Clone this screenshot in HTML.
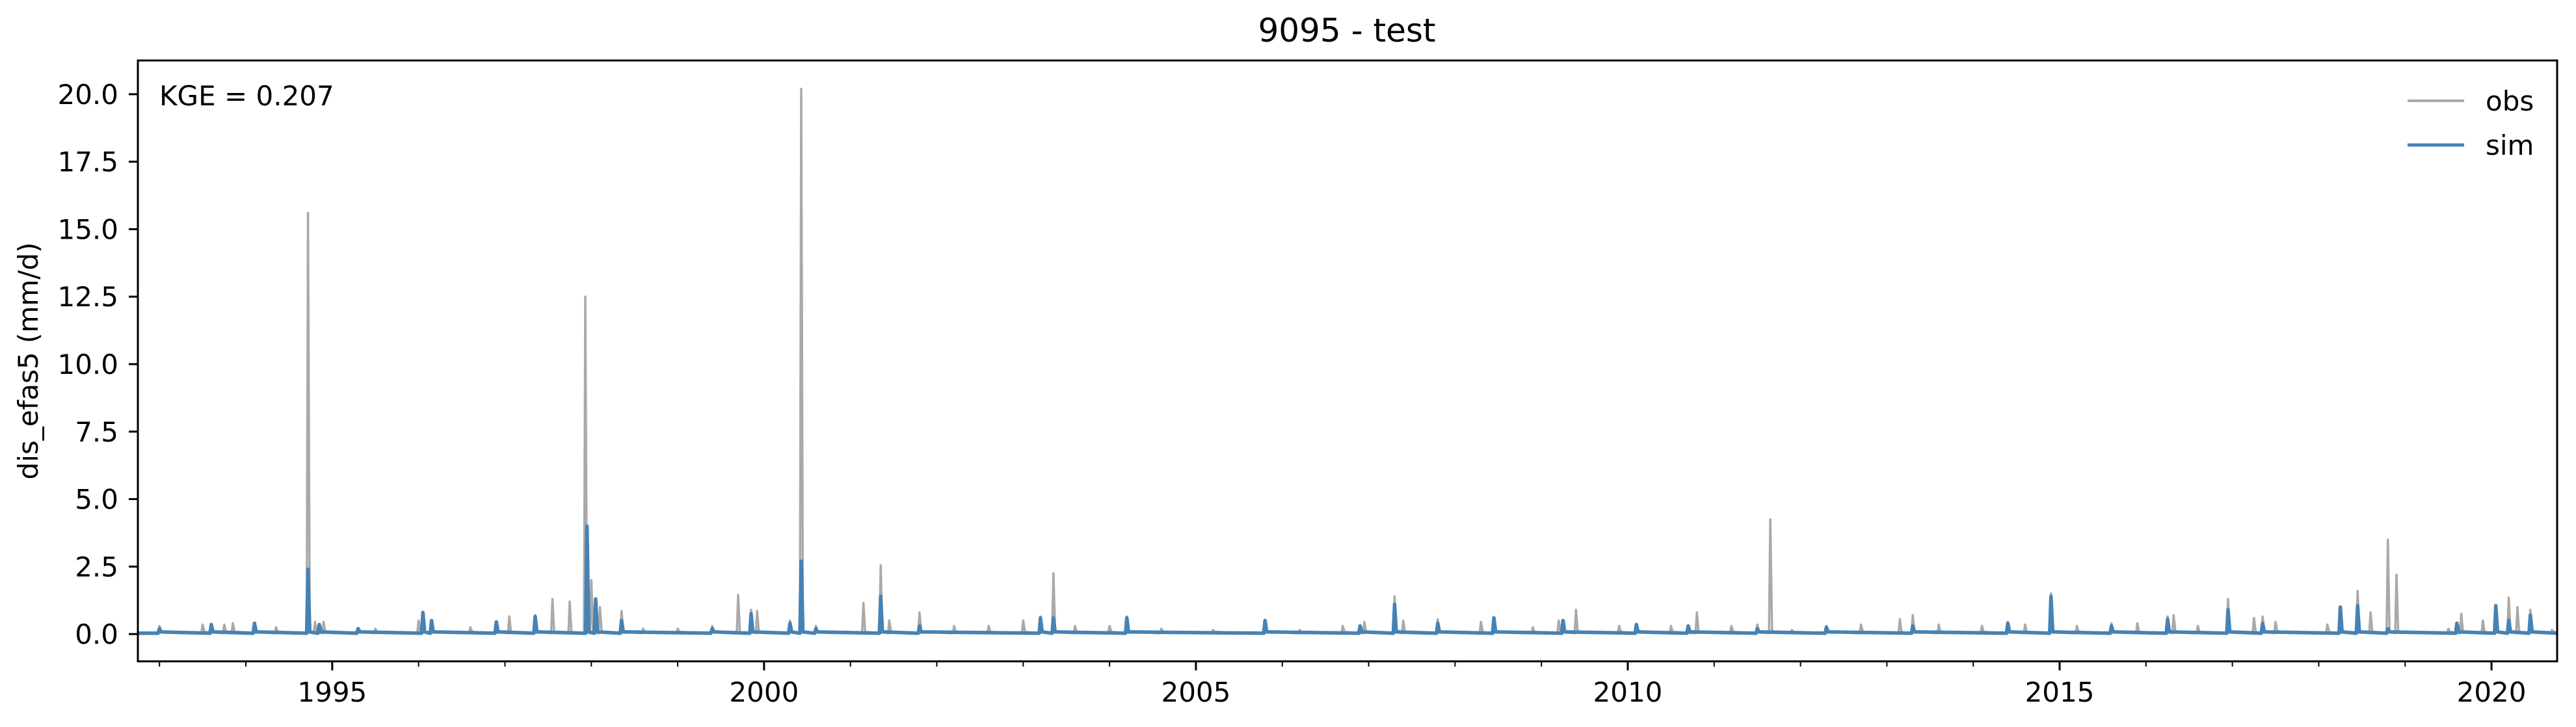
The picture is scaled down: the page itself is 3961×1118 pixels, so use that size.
<!DOCTYPE html>
<html><head><meta charset="utf-8"><style>
html,body{margin:0;padding:0;background:#fff;}
svg{display:block;font-family:"DejaVu Sans","Liberation Sans",sans-serif;}
</style></head><body>
<svg id="chart" width="3961" height="1118" viewBox="0 0 3961 1118" xmlns="http://www.w3.org/2000/svg">
<rect width="3961" height="1118" fill="#fff"/>
<text x="2071" y="64" font-size="50" text-anchor="middle">9095 - test</text>
<text transform="translate(58,555) rotate(-90)" font-size="42" text-anchor="middle">dis_efas5 (mm/d)</text>
<g id="plot"></g>
<g id="axes"></g>
<text x="245" y="162" font-size="42">KGE = 0.207</text>
<g>
<line x1="3702" y1="155" x2="3789" y2="155" stroke="#a9a9a9" stroke-width="4"/>
<text x="3822" y="170" font-size="42">obs</text>
<line x1="3702" y1="223" x2="3789" y2="223" stroke="#4682b4" stroke-width="5"/>
<text x="3822" y="238" font-size="42">sim</text>
</g>
</svg>
<script>
const yTicks = [0, 2.5, 5, 7.5, 10, 12.5, 15, 17.5, 20];
const yTickLabels = ["0.0","2.5","5.0","7.5","10.0","12.5","15.0","17.5","20.0"];
const xTicks = [1995, 2000, 2005, 2010, 2015, 2020];
const xTickLabels = ["1995","2000","2005","2010","2015","2020"];
const obsTimes = [1993.0,1993.5,1993.75,1993.85,1994.1,1994.35,1994.72,1994.8,1994.9,1995.3,1995.5,1996.0,1996.05,1996.15,1996.6,1996.9,1997.05,1997.35,1997.55,1997.75,1997.93,1998.0,1998.1,1998.35,1998.6,1999.0,1999.4,1999.7,1999.85,1999.92,2000.3,2000.43,2000.6,2001.15,2001.35,2001.45,2001.8,2002.2,2002.6,2003.0,2003.2,2003.35,2003.6,2004.0,2004.2,2004.6,2005.2,2005.8,2006.2,2006.7,2006.95,2007.3,2007.4,2007.8,2008.3,2008.45,2008.9,2009.2,2009.4,2009.9,2010.1,2010.5,2010.8,2011.2,2011.5,2011.65,2011.9,2012.3,2012.7,2013.15,2013.3,2013.6,2014.1,2014.4,2014.6,2014.9,2015.2,2015.6,2015.9,2016.25,2016.32,2016.6,2016.95,2017.25,2017.35,2017.5,2018.1,2018.25,2018.45,2018.6,2018.8,2018.9,2019.5,2019.65,2019.9,2020.05,2020.2,2020.3,2020.45,2020.7];
const obsValues = [0.3,0.35,0.35,0.4,0.35,0.25,15.6,0.45,0.45,0.2,0.2,0.5,0.75,0.45,0.25,0.45,0.65,0.7,1.3,1.2,12.5,2.0,1.0,0.85,0.2,0.2,0.3,1.45,0.9,0.85,0.5,20.2,0.3,1.15,2.55,0.5,0.8,0.3,0.3,0.5,0.65,2.25,0.3,0.3,0.65,0.2,0.15,0.5,0.15,0.3,0.45,1.4,0.5,0.55,0.45,0.6,0.25,0.5,0.9,0.3,0.35,0.3,0.8,0.3,0.35,4.25,0.15,0.3,0.35,0.55,0.7,0.35,0.3,0.45,0.35,1.5,0.3,0.4,0.4,0.65,0.7,0.3,1.3,0.6,0.65,0.45,0.35,1.0,1.6,0.8,3.5,2.2,0.2,0.75,0.5,0.85,1.35,1.0,0.9,0.15];
const simTimes = [1993.0,1993.6,1994.1,1994.72,1994.85,1995.3,1996.05,1996.15,1996.9,1997.35,1997.95,1998.05,1998.35,1999.4,1999.85,2000.3,2000.43,2000.6,2001.35,2001.8,2003.2,2003.35,2004.2,2005.8,2006.9,2007.3,2007.8,2008.45,2009.25,2010.1,2010.7,2011.5,2012.3,2013.3,2014.4,2014.9,2015.6,2016.25,2016.95,2017.35,2018.25,2018.45,2018.8,2019.6,2020.05,2020.2,2020.45];
const simValues = [0.2,0.35,0.4,2.4,0.35,0.2,0.8,0.5,0.45,0.65,4.0,1.3,0.5,0.2,0.75,0.4,2.7,0.2,1.4,0.3,0.6,0.6,0.6,0.5,0.3,1.1,0.4,0.6,0.5,0.35,0.3,0.2,0.25,0.3,0.4,1.4,0.3,0.55,0.9,0.4,1.0,1.05,0.2,0.4,1.05,0.5,0.7];
const baseValue = 0.03;

const L=212,R=3932,T=93,B=1017;
const xMin=1992.75,xMax=2020.76,yMin=-1.01,yMax=21.25;
const xs=t=>L+(t-xMin)/(xMax-xMin)*(R-L);
const ys=v=>B-(v-yMin)/(yMax-yMin)*(B-T);
const NS="http://www.w3.org/2000/svg";
function mk(tag,attrs,parent){const e=document.createElementNS(NS,tag);for(const k in attrs)e.setAttribute(k,attrs[k]);parent.appendChild(e);return e;}
const plot=document.getElementById('plot'), axes=document.getElementById('axes');

function seriesPath(times,vals){
  let pts=[[xMin,baseValue]];
  for(let i=0;i<times.length;i++){
    pts.push([times[i]-0.015,baseValue]);
    pts.push([times[i],vals[i]]);
    pts.push([times[i]+0.02,baseValue+0.05]);
  }
  pts.push([xMax,baseValue]);
  return pts.map((p,i)=>(i?'L':'M')+xs(p[0]).toFixed(1)+','+ys(p[1]).toFixed(1)).join('');
}
const obs=mk('path',{d:seriesPath(obsTimes,obsValues),fill:'none',stroke:'#a9a9a9','stroke-width':3.5,'stroke-linejoin':'round'},plot);


const sim=mk('path',{d:seriesPath(simTimes,simValues),fill:'none',stroke:'#4682b4','stroke-width':5.5,'stroke-linejoin':'round'},plot);



const frame=mk('rect',{x:L,y:T,width:R-L,height:B-T,fill:'none',stroke:'#000','stroke-width':3},axes);



yTicks.forEach((v,i)=>{
  const y=ys(v);
  const tk=mk('line',{x1:L-14,x2:L,y1:y,y2:y,stroke:'#000','stroke-width':3},axes);
  
  
  const tx=mk('text',{x:L-30,y:y+15,'font-size':42,'text-anchor':'end'},axes);
  tx.textContent=yTickLabels[i];
  
  
});
for(let yr=1993;yr<=2020;yr++){
  const x=xs(yr);
  const tk=mk('line',{x1:x,x2:x,y1:B,y2:B+8,stroke:'#000','stroke-width':2},axes);
  
  
}
xTicks.forEach((t,i)=>{
  const x=xs(t);
  const tk=mk('line',{x1:x,x2:x,y1:B,y2:B+14,stroke:'#000','stroke-width':3},axes);
  
  
  const tx=mk('text',{x:x,y:B+62,'font-size':42,'text-anchor':'middle'},axes);
  tx.textContent=xTickLabels[i];
  
  
});
</script>
</body></html>
